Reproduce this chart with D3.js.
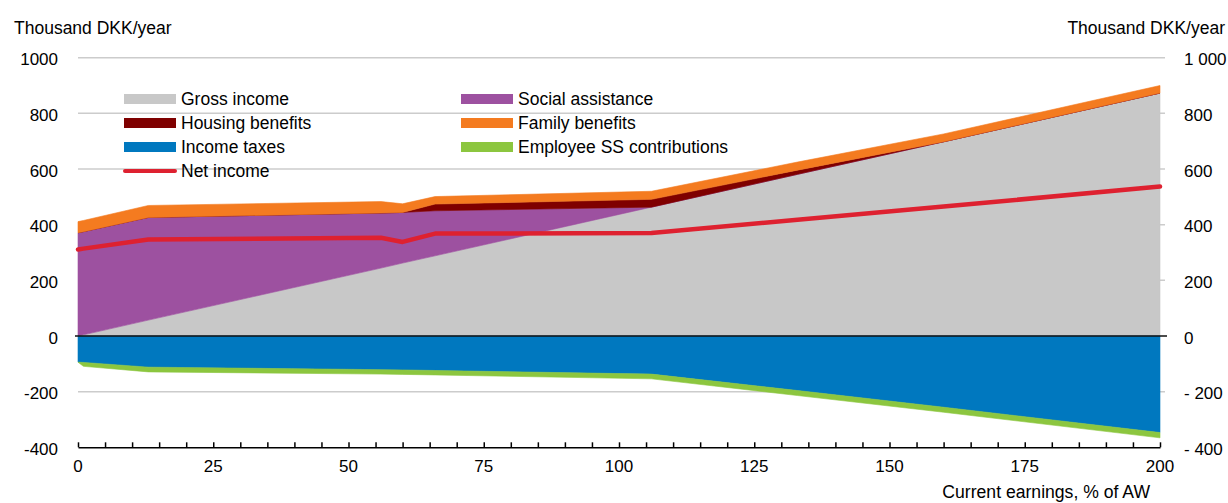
<!DOCTYPE html>
<html><head><meta charset="utf-8">
<script src="https://cdn.jsdelivr.net/npm/d3@7"></script>
<style>
html,body{margin:0;padding:0;background:#fff;}
svg{display:block;font-family:"Liberation Sans",Arial,sans-serif;}
</style></head>
<body>
<svg id="chart" width="1228" height="503"></svg>
<script>
// Data (thousand DKK/year) by current earnings, % of AW
const earnings        = [0,   1,   13,  56,  60,  66,  106, 133, 160, 200];
const grossIncome     = [0,   4,   57,  244, 262, 288, 463, 581, 698, 873];
const socialAssistance= [371, 371, 369, 198, 182, 162, 0,   0,   0,   0];
const housingBenefits = [0,   0,   0,   0,   0,   24,  28,  15,  0,   0];
const familyBenefits  = [40,  40,  43,  41,  31,  27,  29,  29,  28,  27];
const incomeTaxes     = [94,  95,  112, 121, 122, 124, 137, 196, 256, 347];
const ssContributions = [0,   14,  17,  16,  16,  16,  17,  18,  18,  19];
const netIncome       = [311, 314, 347, 353, 338, 368, 370, 418, 465, 537];

const yTicks = [-400,-200,0,200,400,600,800,1000];
const leftTickLabels  = ["-400","-200","0","200","400","600","800","1000"];
const rightTickLabels = ["- 400","- 200","0","200","400","600","800","1 000"];
const xTicks = [0,25,50,75,100,125,150,175,200];

const colors = {
  gross:"#c8c8c8", sa:"#9d51a0", hb:"#7f0000", fb:"#f47b20",
  tax:"#0078bf", ss:"#8cc63f", net:"#de2130"
};

const svg = d3.select("#chart");
const x = d3.scaleLinear().domain([0,200]).range([78,1160]);
const y = d3.scaleLinear().domain([-400,1000]).range([447.3,57.7]);

// gridlines
svg.append("g").selectAll("line").data(yTicks.filter(v=>v!==0 && v!==-400)).join("line")
  .attr("x1",78).attr("x2",1165).attr("y1",d=>y(d)).attr("y2",d=>y(d))
  .attr("stroke","#cccccc").attr("stroke-width",1.5);

// stacks
const rows = earnings.map((e,i)=>{
  const g=grossIncome[i], s=socialAssistance[i], h=housingBenefits[i], f=familyBenefits[i];
  const t=incomeTaxes[i], c=ssContributions[i];
  return {e, g0:0,g1:g, s0:g,s1:g+s, h0:g+s,h1:g+s+h, f0:g+s+h,f1:g+s+h+f,
          t0:0,t1:-t, c0:-t,c1:-t-c};
});
const layers = [
  ["g0","g1",colors.gross],["s0","s1",colors.sa],["h0","h1",colors.hb],["f0","f1",colors.fb],
  ["t0","t1",colors.tax],["c0","c1",colors.ss]
];
layers.forEach(([a,b,col])=>{
  const area = d3.area().x(d=>x(d.e)).y0(d=>y(d[a])).y1(d=>y(d[b]));
  svg.append("path").datum(rows).attr("d",area).attr("fill",col)
    .attr("stroke",col).attr("stroke-width",0.6);
});

// zero line
svg.append("line").attr("x1",75).attr("x2",1167).attr("y1",y(0)).attr("y2",y(0))
  .attr("stroke","#111").attr("stroke-width",1.5);

// net income
const line = d3.line().x((d,i)=>x(earnings[i])).y(d=>y(d));
svg.append("path").datum(netIncome).attr("d",line).attr("fill","none")
  .attr("stroke",colors.net).attr("stroke-width",4.5).attr("stroke-linecap","round")
  .attr("stroke-linejoin","round");

// x axis
const xAxis = d3.axisBottom(x).tickValues(d3.range(0,201,5)).tickSize(0).tickFormat("");
const xg = svg.append("g").attr("transform",`translate(0,${y(-400)})`).call(xAxis);
xg.select(".domain").attr("stroke","#000").attr("stroke-width",1.5);
xg.selectAll(".tick").append("line").attr("y1",0).attr("y2",-5).attr("stroke","#000").attr("stroke-width",1.5);
svg.append("g").selectAll("text").data(xTicks).join("text")
  .attr("x",d=>x(d)).attr("y",472).attr("text-anchor","middle")
  .attr("font-size",17).attr("fill","#000").text(d=>d);

// y axes labels
const ly = d3.axisLeft(y).tickValues(yTicks).tickSize(0).tickFormat((d,i)=>leftTickLabels[i]);
const lg = svg.append("g").attr("transform","translate(58,0)").call(ly);
lg.select(".domain").remove();
lg.selectAll("text").attr("x",0).attr("dy","0.42em").attr("font-size",17)
  .attr("font-family","Liberation Sans, Arial, sans-serif").attr("fill","#000").attr("text-anchor","end");
const ry = d3.axisRight(y).tickValues(yTicks).tickSize(0).tickFormat((d,i)=>rightTickLabels[i]);
const rg = svg.append("g").attr("transform","translate(1184,0)").call(ry);
rg.select(".domain").remove();
rg.selectAll("text").attr("x",0).attr("dy","0.42em").attr("font-size",17)
  .attr("font-family","Liberation Sans, Arial, sans-serif").attr("fill","#000").attr("text-anchor","start");

// titles
svg.append("text").attr("x",14).attr("y",34).attr("font-size",17.5).text("Thousand DKK/year");
svg.append("text").attr("x",1225).attr("y",34).attr("font-size",17.5).attr("text-anchor","end").text("Thousand DKK/year");
svg.append("text").attr("x",1150).attr("y",498).attr("font-size",17.6).attr("text-anchor","end").text("Current earnings, % of AW");

// legend
const legend = [
  {label:"Gross income", col:colors.gross, cx:124, row:0},
  {label:"Housing benefits", col:colors.hb, cx:124, row:1},
  {label:"Income taxes", col:colors.tax, cx:124, row:2},
  {label:"Net income", col:colors.net, cx:124, row:3, line:true},
  {label:"Social assistance", col:colors.sa, cx:461, row:0},
  {label:"Family benefits", col:colors.fb, cx:461, row:1},
  {label:"Employee SS contributions", col:colors.ss, cx:461, row:2}
];
const lgG = svg.append("g");
legend.forEach(d=>{
  const cy = 99 + d.row*24;
  if(d.line){
    lgG.append("line").attr("x1",d.cx+1).attr("x2",d.cx+51).attr("y1",cy).attr("y2",cy)
      .attr("stroke",d.col).attr("stroke-width",4).attr("stroke-linecap","round");
  } else {
    lgG.append("rect").attr("x",d.cx).attr("y",cy-5).attr("width",52).attr("height",10).attr("fill",d.col);
  }
  lgG.append("text").attr("x",d.cx+57).attr("y",cy+6).attr("font-size",17.5).text(d.label);
});
</script>
</body></html>
